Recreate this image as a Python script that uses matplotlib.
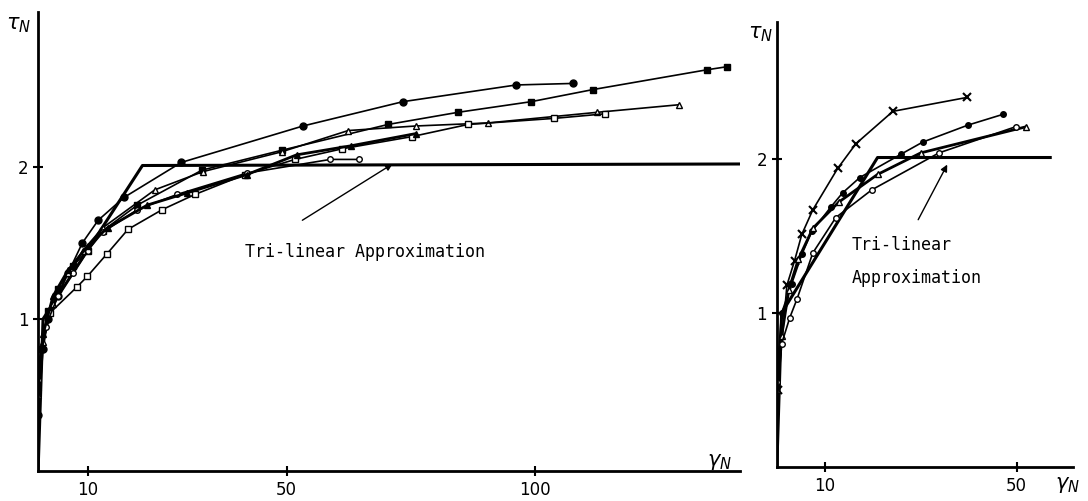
import matplotlib
matplotlib.use("Agg")
import matplotlib.pyplot as plt

# ---------------- left panel data ----------------
trilin_L_x = [0, 1, 21, 141]
trilin_L_y = [0, 1.0, 2.01, 2.02]

L_circ_x = [0, 1, 2, 4, 6, 8.9, 12.1, 17.3, 28.8, 53.3, 73.4, 96.2, 107.6]
L_circ_y = [0.37, 0.8, 1.0, 1.15, 1.3, 1.5, 1.65, 1.80, 2.03, 2.27, 2.43, 2.54, 2.55]

L_sq_x = [0.5, 2, 4, 7, 10, 13, 20, 33, 49, 70.4, 84.5, 99.2, 111.7, 134.6, 138.6]
L_sq_y = [0.8, 1.05, 1.2, 1.35, 1.45, 1.58, 1.75, 1.98, 2.11, 2.28, 2.36, 2.43, 2.51, 2.64, 2.66]

L_tri_x = [0, 1, 3, 6, 9, 13, 23.5, 33.2, 49, 62.4, 76, 90.5, 112.5, 129]
L_tri_y = [0.5, 0.85, 1.1, 1.3, 1.45, 1.6, 1.85, 1.97, 2.1, 2.24, 2.27, 2.29, 2.36, 2.41]

L_osq_x = [0, 2.4, 7.8, 9.9, 13.9, 18.1, 25, 31.6, 41.6, 51.7, 61.2, 75.2, 86.5, 103.8, 114]
L_osq_y = [0.7, 1.04, 1.21, 1.28, 1.43, 1.59, 1.72, 1.82, 1.95, 2.05, 2.12, 2.2, 2.28, 2.32, 2.35]

L_ocirc_x = [0, 1.5, 4, 7, 10, 13, 20, 28, 42, 58.8, 64.6]
L_ocirc_y = [0.6, 0.95, 1.15, 1.3, 1.45, 1.57, 1.72, 1.82, 1.96, 2.05, 2.05]

L_ftri_x = [0, 1, 3, 6, 10, 14, 22, 30, 42, 52, 63, 76]
L_ftri_y = [0.55, 0.9, 1.15, 1.32, 1.48, 1.6, 1.75, 1.83, 1.95, 2.08, 2.14, 2.22]

# ---------------- right panel data ----------------
trilin_R_x = [0, 1, 21, 57]
trilin_R_y = [0, 1.0, 2.01, 2.01]

R_x_x = [0.2, 2.1, 3.7, 5.2, 7.5, 12.7, 16.5, 24.2, 39.6]
R_x_y = [0.5, 1.18, 1.34, 1.51, 1.67, 1.94, 2.10, 2.31, 2.40]

R_circ_x = [0, 1, 3.1, 5.2, 7.3, 11.3, 13.7, 17.3, 25.8, 30.4, 39.8, 47.1]
R_circ_y = [0.6, 1.0, 1.19, 1.38, 1.53, 1.69, 1.78, 1.88, 2.03, 2.11, 2.22, 2.29]

R_tri_x = [0, 1, 2.5, 4.5, 7.5, 12.9, 21, 30, 52]
R_tri_y = [0.5, 0.85, 1.15, 1.35, 1.55, 1.72, 1.9, 2.04, 2.21]

R_ocirc_x = [0, 1, 2.7, 4.2, 7.5, 12.3, 19.8, 33.8, 49.8]
R_ocirc_y = [0.55, 0.8, 0.97, 1.09, 1.39, 1.62, 1.80, 2.04, 2.21]

fig = plt.figure(figsize=(10.88, 5.01), dpi=100)
ax1 = fig.add_axes([0.035, 0.060, 0.645, 0.916])
ax2 = fig.add_axes([0.714, 0.068, 0.272, 0.888])

lw = 1.2
ms = 5

def style(ax, xmax, ymax, xticks):
    ax.set_xlim(0, xmax)
    ax.set_ylim(0, ymax)
    for s in ['top', 'right']:
        ax.spines[s].set_visible(False)
    for s in ['left', 'bottom']:
        ax.spines[s].set_linewidth(2)
    ax.set_xticks(xticks)
    ax.set_yticks([1, 2])
    ax.tick_params(direction='inout', length=7, width=1.5, labelsize=12)

# left panel
ax1.plot(trilin_L_x, trilin_L_y, 'k-', lw=2.2)
ax1.plot(L_circ_x, L_circ_y, 'k-o', lw=lw, ms=ms)
ax1.plot(L_sq_x, L_sq_y, 'k-s', lw=lw, ms=ms)
ax1.plot(L_tri_x, L_tri_y, 'k-^', lw=lw, ms=ms, mfc='white')
ax1.plot(L_osq_x, L_osq_y, 'k-s', lw=lw, ms=ms, mfc='white')
ax1.plot(L_ocirc_x, L_ocirc_y, 'k-o', lw=lw, ms=ms - 1, mfc='white')
ax1.plot(L_ftri_x, L_ftri_y, 'k-^', lw=2.0, ms=ms)
style(ax1, 141.2, 3.02, [10, 50, 100])
ax1.annotate('', xy=(71.8, 2.03), xytext=(52.7, 1.64),
             arrowprops=dict(arrowstyle='-|>', color='k', lw=1.0))
ax1.text(41.6, 1.44, 'Tri-linear Approximation', family='DejaVu Sans Mono',
         fontsize=12, va='center')
ax1.text(-1.5, 3.0, r'$\tau_N$', fontsize=15, ha='right', va='top')
ax1.text(137, 0.06, r'$\gamma_N$', fontsize=15, ha='center', va='center')

# right panel
ax2.plot(trilin_R_x, trilin_R_y, 'k-', lw=2.2)
ax2.plot(R_x_x, R_x_y, 'k-x', lw=lw, ms=ms + 1, mew=1.5)
ax2.plot(R_circ_x, R_circ_y, 'k-o', lw=lw, ms=ms - 1)
ax2.plot(R_tri_x, R_tri_y, 'k-^', lw=2.0, ms=ms, mfc='white')
ax2.plot(R_ocirc_x, R_ocirc_y, 'k-o', lw=lw, ms=ms - 1, mfc='white')
style(ax2, 61.7, 2.89, [10, 50])
ax2.annotate('', xy=(35.8, 1.98), xytext=(29.2, 1.59),
             arrowprops=dict(arrowstyle='-|>', color='k', lw=1.0))
ax2.text(15.6, 1.44, 'Tri-linear', family='DejaVu Sans Mono', fontsize=12, va='center')
ax2.text(15.6, 1.23, 'Approximation', family='DejaVu Sans Mono', fontsize=12, va='center')
ax2.text(-0.8, 2.88, r'$\tau_N$', fontsize=15, ha='right', va='top')
ax2.text(60.5, -0.05, r'$\gamma_N$', fontsize=15, ha='center', va='top', clip_on=False)

fig.savefig('out.png', dpi=100)
